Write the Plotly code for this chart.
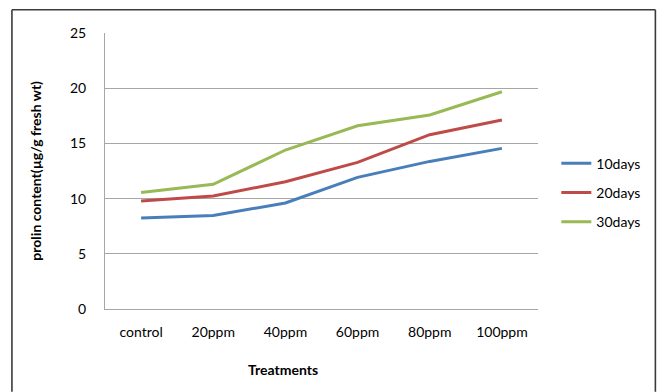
import plotly.graph_objects as go

# Treatments and proline content (µg/g fresh wt) per sampling day
treatments = ["control", "20ppm", "40ppm", "60ppm", "80ppm", "100ppm"]
days10 = [8.24, 8.48, 9.60, 11.92, 13.37, 14.55]
days20 = [9.78, 10.24, 11.53, 13.28, 15.79, 17.12]
days30 = [10.56, 11.29, 14.40, 16.60, 17.57, 19.68]
series_names = ["10days", "20days", "30days"]
series_colors = ["#4A7EBB", "#BE4B48", "#98B954"]
y_ticks = [0, 5, 10, 15, 20, 25]

FONT = "Lato, 'Open Sans', sans-serif"

fig = go.Figure()
for i, (name, vals, col) in enumerate(zip(series_names, [days10, days20, days30], series_colors)):
    fig.add_trace(go.Scatter(
        x=treatments, y=vals, mode="lines", name=name,
        line=dict(color=col, width=3), legendgroup=f"g{i}",
    ))

# plot-area geometry in pixels
L, R, T, B = 105, 537.7, 33.3, 309.3
W, H = 660, 392
pw, ph = R - L, B - T

def px_x(x):
    return (x - L) / pw

def px_y(y):
    return (B - y) / ph

# chart-area frame drawn as separate edges
frame = dict(color="#3a3a3a", width=1.6)
border = [
    dict(type="line", xref="paper", yref="paper",
         x0=px_x(12), x1=px_x(655), y0=px_y(10), y1=px_y(10), line=frame),
    dict(type="line", xref="paper", yref="paper",
         x0=px_x(12), x1=px_x(12), y0=px_y(10), y1=px_y(392), line=frame),
    dict(type="line", xref="paper", yref="paper",
         x0=px_x(655), x1=px_x(655), y0=px_y(10), y1=px_y(392), line=frame),
]

fig.update_layout(
    width=W, height=H,
    margin=dict(l=L, r=W - R, t=T, b=H - B, pad=0),
    paper_bgcolor="white", plot_bgcolor="white",
    font=dict(family=FONT, size=14, color="#000000"),
    showlegend=True,
    legend=dict(
        x=px_x(556), y=px_y(148), xanchor="left", yanchor="top",
        font=dict(family=FONT, size=14, color="#000000"),
        itemwidth=30, tracegroupgap=8, traceorder="grouped",
        bgcolor="rgba(0,0,0,0)",
    ),
    xaxis=dict(
        type="category", range=[-0.5, 5.5], showgrid=False,
        showline=True, linecolor="#A6A6A6", linewidth=1,
        ticks="", ticklabelstandoff=10, tickfont=dict(size=14),
        zeroline=False, fixedrange=True,
    ),
    yaxis=dict(
        range=[0, 25], tickvals=y_ticks, showgrid=True,
        gridcolor="#A6A6A6", gridwidth=1,
        showline=True, linecolor="#A6A6A6", linewidth=1,
        ticks="", ticklabelstandoff=15, tickfont=dict(size=14),
        zeroline=False, fixedrange=True,
    ),
    shapes=border,
    annotations=[
        dict(text="<b>prolin content(µg/g fresh wt)</b>", textangle=-90,
             xref="paper", yref="paper", x=px_x(36), y=px_y(171),
             xanchor="center", yanchor="middle", showarrow=False,
             font=dict(family=FONT, size=14, color="#000000")),
        dict(text="<b>Treatments</b>",
             xref="paper", yref="paper", x=px_x(283), y=px_y(370),
             xanchor="center", yanchor="middle", showarrow=False,
             font=dict(family=FONT, size=14, color="#000000")),
    ],
)

fig.write_html("out.html")
